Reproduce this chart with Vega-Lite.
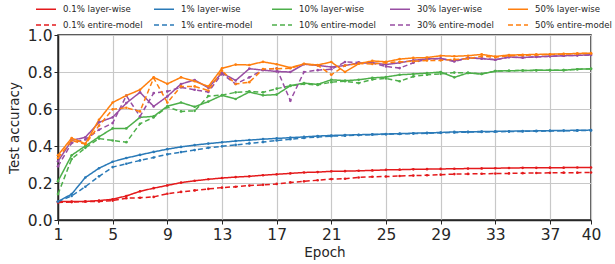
{
  "$schema": "https://vega.github.io/schema/vega-lite/v6.json",
  "width": 533,
  "height": 185,
  "autosize": {"type": "none"},
  "padding": {"left": 58, "top": 35, "right": 24, "bottom": 44},
  "background": "white",
  "config": {
    "font": "DejaVu Sans",
    "view": {"stroke": "#262626", "strokeWidth": 1.5},
    "axis": {
      "domainColor": "#262626", "domainWidth": 1.5,
      "tickColor": "#262626", "tickSize": 4, "tickWidth": 1,
      "labelFont": "DejaVu Sans", "labelFontSize": 15.5, "labelColor": "#262626",
      "titleFont": "DejaVu Sans", "titleFontSize": 13.5, "titleFontWeight": "normal", "titleColor": "#262626",
      "gridColor": "#c8c8c8", "gridWidth": 1.2
    },
    "legend": {
      "orient": "none", "legendX": -23, "legendY": -37,
      "columns": 5, "direction": "horizontal", "gridAlign": "all",
      "symbolType": "stroke", "symbolSize": 400, "symbolStrokeWidth": 1.5,
      "labelFont": "DejaVu Sans", "labelFontSize": 8.6, "labelColor": "#262626",
      "labelOffset": 6, "columnPadding": 8, "rowPadding": -13, "padding": 0
    }
  },
  "data": {"values": [
    {"epoch":1,"lw01":0.100,"em01":0.095,"lw1":0.100,"em1":0.100,"lw10":0.210,"em10":0.140,"lw30":0.317,"em30":0.290,"lw50":0.350,"em50":0.335},
    {"epoch":2,"lw01":0.100,"em01":0.097,"lw1":0.140,"em1":0.130,"lw10":0.350,"em10":0.330,"lw30":0.430,"em30":0.416,"lw50":0.443,"em50":0.430},
    {"epoch":3,"lw01":0.100,"em01":0.100,"lw1":0.230,"em1":0.180,"lw10":0.400,"em10":0.390,"lw30":0.447,"em30":0.435,"lw50":0.412,"em50":0.410},
    {"epoch":4,"lw01":0.105,"em01":0.100,"lw1":0.280,"em1":0.236,"lw10":0.450,"em10":0.440,"lw30":0.528,"em30":0.488,"lw50":0.542,"em50":0.510},
    {"epoch":5,"lw01":0.112,"em01":0.105,"lw1":0.315,"em1":0.286,"lw10":0.495,"em10":0.430,"lw30":0.555,"em30":0.524,"lw50":0.635,"em50":0.598},
    {"epoch":6,"lw01":0.130,"em01":0.118,"lw1":0.335,"em1":0.304,"lw10":0.495,"em10":0.420,"lw30":0.632,"em30":0.672,"lw50":0.673,"em50":0.607},
    {"epoch":7,"lw01":0.155,"em01":0.120,"lw1":0.352,"em1":0.322,"lw10":0.555,"em10":0.520,"lw30":0.690,"em30":0.560,"lw50":0.704,"em50":0.587},
    {"epoch":8,"lw01":0.172,"em01":0.125,"lw1":0.368,"em1":0.338,"lw10":0.560,"em10":0.555,"lw30":0.614,"em30":0.686,"lw50":0.771,"em50":0.768},
    {"epoch":9,"lw01":0.187,"em01":0.142,"lw1":0.383,"em1":0.355,"lw10":0.615,"em10":0.610,"lw30":0.668,"em30":0.695,"lw50":0.736,"em50":0.635},
    {"epoch":10,"lw01":0.202,"em01":0.152,"lw1":0.395,"em1":0.367,"lw10":0.635,"em10":0.587,"lw30":0.735,"em30":0.717,"lw50":0.771,"em50":0.722},
    {"epoch":11,"lw01":0.212,"em01":0.160,"lw1":0.405,"em1":0.378,"lw10":0.612,"em10":0.590,"lw30":0.757,"em30":0.704,"lw50":0.750,"em50":0.722},
    {"epoch":12,"lw01":0.220,"em01":0.168,"lw1":0.413,"em1":0.390,"lw10":0.640,"em10":0.670,"lw30":0.715,"em30":0.692,"lw50":0.722,"em50":0.700},
    {"epoch":13,"lw01":0.227,"em01":0.175,"lw1":0.420,"em1":0.398,"lw10":0.674,"em10":0.675,"lw30":0.795,"em30":0.790,"lw50":0.820,"em50":0.807},
    {"epoch":14,"lw01":0.232,"em01":0.180,"lw1":0.427,"em1":0.406,"lw10":0.654,"em10":0.690,"lw30":0.754,"em30":0.735,"lw50":0.840,"em50":0.735},
    {"epoch":15,"lw01":0.236,"em01":0.186,"lw1":0.432,"em1":0.414,"lw10":0.692,"em10":0.695,"lw30":0.818,"em30":0.771,"lw50":0.838,"em50":0.745},
    {"epoch":16,"lw01":0.242,"em01":0.190,"lw1":0.437,"em1":0.421,"lw10":0.674,"em10":0.690,"lw30":0.810,"em30":0.812,"lw50":0.855,"em50":0.816},
    {"epoch":17,"lw01":0.247,"em01":0.195,"lw1":0.441,"em1":0.430,"lw10":0.678,"em10":0.710,"lw30":0.803,"em30":0.820,"lw50":0.842,"em50":0.818},
    {"epoch":18,"lw01":0.252,"em01":0.203,"lw1":0.445,"em1":0.437,"lw10":0.726,"em10":0.725,"lw30":0.800,"em30":0.645,"lw50":0.823,"em50":0.820},
    {"epoch":19,"lw01":0.257,"em01":0.209,"lw1":0.449,"em1":0.443,"lw10":0.740,"em10":0.735,"lw30":0.842,"em30":0.800,"lw50":0.844,"em50":0.843},
    {"epoch":20,"lw01":0.259,"em01":0.215,"lw1":0.454,"em1":0.449,"lw10":0.733,"em10":0.730,"lw30":0.836,"em30":0.810,"lw50":0.838,"em50":0.836},
    {"epoch":21,"lw01":0.263,"em01":0.221,"lw1":0.457,"em1":0.453,"lw10":0.758,"em10":0.745,"lw30":0.827,"em30":0.815,"lw50":0.854,"em50":0.785},
    {"epoch":22,"lw01":0.264,"em01":0.223,"lw1":0.459,"em1":0.456,"lw10":0.753,"em10":0.750,"lw30":0.835,"em30":0.854,"lw50":0.800,"em50":0.835},
    {"epoch":23,"lw01":0.266,"em01":0.230,"lw1":0.461,"em1":0.459,"lw10":0.758,"em10":0.740,"lw30":0.849,"em30":0.852,"lw50":0.845,"em50":0.846},
    {"epoch":24,"lw01":0.268,"em01":0.234,"lw1":0.463,"em1":0.461,"lw10":0.768,"em10":0.760,"lw30":0.850,"em30":0.848,"lw50":0.860,"em50":0.843},
    {"epoch":25,"lw01":0.271,"em01":0.235,"lw1":0.465,"em1":0.463,"lw10":0.773,"em10":0.765,"lw30":0.840,"em30":0.830,"lw50":0.855,"em50":0.850},
    {"epoch":26,"lw01":0.272,"em01":0.238,"lw1":0.467,"em1":0.465,"lw10":0.785,"em10":0.750,"lw30":0.850,"em30":0.821,"lw50":0.870,"em50":0.855},
    {"epoch":27,"lw01":0.274,"em01":0.240,"lw1":0.469,"em1":0.467,"lw10":0.789,"em10":0.776,"lw30":0.863,"em30":0.850,"lw50":0.876,"em50":0.858},
    {"epoch":28,"lw01":0.275,"em01":0.242,"lw1":0.471,"em1":0.469,"lw10":0.794,"em10":0.785,"lw30":0.871,"em30":0.870,"lw50":0.878,"em50":0.862},
    {"epoch":29,"lw01":0.276,"em01":0.245,"lw1":0.473,"em1":0.471,"lw10":0.800,"em10":0.790,"lw30":0.873,"em30":0.872,"lw50":0.888,"em50":0.863},
    {"epoch":30,"lw01":0.277,"em01":0.248,"lw1":0.476,"em1":0.473,"lw10":0.771,"em10":0.797,"lw30":0.860,"em30":0.857,"lw50":0.885,"em50":0.868},
    {"epoch":31,"lw01":0.278,"em01":0.249,"lw1":0.477,"em1":0.475,"lw10":0.795,"em10":0.795,"lw30":0.876,"em30":0.876,"lw50":0.888,"em50":0.872},
    {"epoch":32,"lw01":0.279,"em01":0.250,"lw1":0.478,"em1":0.476,"lw10":0.789,"em10":0.790,"lw30":0.872,"em30":0.874,"lw50":0.895,"em50":0.885},
    {"epoch":33,"lw01":0.280,"em01":0.251,"lw1":0.479,"em1":0.477,"lw10":0.805,"em10":0.805,"lw30":0.866,"em30":0.866,"lw50":0.884,"em50":0.880},
    {"epoch":34,"lw01":0.281,"em01":0.252,"lw1":0.480,"em1":0.478,"lw10":0.807,"em10":0.807,"lw30":0.881,"em30":0.880,"lw50":0.892,"em50":0.888},
    {"epoch":35,"lw01":0.282,"em01":0.253,"lw1":0.481,"em1":0.479,"lw10":0.808,"em10":0.808,"lw30":0.878,"em30":0.878,"lw50":0.893,"em50":0.890},
    {"epoch":36,"lw01":0.282,"em01":0.254,"lw1":0.482,"em1":0.480,"lw10":0.809,"em10":0.809,"lw30":0.882,"em30":0.882,"lw50":0.895,"em50":0.893},
    {"epoch":37,"lw01":0.283,"em01":0.255,"lw1":0.483,"em1":0.481,"lw10":0.810,"em10":0.810,"lw30":0.885,"em30":0.885,"lw50":0.896,"em50":0.895},
    {"epoch":38,"lw01":0.283,"em01":0.256,"lw1":0.484,"em1":0.482,"lw10":0.810,"em10":0.810,"lw30":0.888,"em30":0.888,"lw50":0.898,"em50":0.897},
    {"epoch":39,"lw01":0.284,"em01":0.256,"lw1":0.485,"em1":0.483,"lw10":0.815,"em10":0.815,"lw30":0.890,"em30":0.890,"lw50":0.900,"em50":0.899},
    {"epoch":40,"lw01":0.284,"em01":0.257,"lw1":0.486,"em1":0.484,"lw10":0.817,"em10":0.817,"lw30":0.893,"em30":0.892,"lw50":0.902,"em50":0.900}
  ]},
  "transform": [
    {"fold": ["lw01","em01","lw1","em1","lw10","em10","lw30","em30","lw50","em50"], "as": ["key","acc"]},
    {"lookup": "key", "from": {"data": {"values": [
      {"key":"lw01","series":"0.1% layer-wise"},
      {"key":"lw1","series":"1% layer-wise"},
      {"key":"lw10","series":"10% layer-wise"},
      {"key":"lw30","series":"30% layer-wise"},
      {"key":"lw50","series":"50% layer-wise"},
      {"key":"em01","series":"0.1% entire-model"},
      {"key":"em1","series":"1% entire-model"},
      {"key":"em10","series":"10% entire-model"},
      {"key":"em30","series":"30% entire-model"},
      {"key":"em50","series":"50% entire-model"}
    ]}, "key": "key", "fields": ["series"]}}
  ],
  "mark": {"type": "line", "strokeWidth": 1.5, "point": {"filled": true, "size": 7}},
  "encoding": {
    "x": {
      "field": "epoch", "type": "quantitative",
      "scale": {"domain": [1, 40], "nice": false, "zero": false},
      "axis": {"values": [1,5,9,13,17,21,25,29,33,37,40], "title": "Epoch", "labelPadding": 3, "titlePadding": 3, "labelFlush": false}
    },
    "y": {
      "field": "acc", "type": "quantitative",
      "scale": {"domain": [0, 1], "nice": false},
      "axis": {"values": [0,0.2,0.4,0.6,0.8,1.0], "format": ".1f", "title": "Test accuracy", "labelPadding": 2, "titlePadding": 6}
    },
    "color": {
      "field": "series", "type": "nominal", "title": null,
      "scale": {
        "domain": ["0.1% layer-wise","1% layer-wise","10% layer-wise","30% layer-wise","50% layer-wise","0.1% entire-model","1% entire-model","10% entire-model","30% entire-model","50% entire-model"],
        "range": ["#e41a1c","#2a7ab8","#4daf4a","#984ea3","#ff7f0e","#e41a1c","#2a7ab8","#4daf4a","#984ea3","#ff7f0e"]
      }
    },
    "strokeDash": {
      "field": "series", "type": "nominal", "title": null,
      "scale": {
        "domain": ["0.1% layer-wise","1% layer-wise","10% layer-wise","30% layer-wise","50% layer-wise","0.1% entire-model","1% entire-model","10% entire-model","30% entire-model","50% entire-model"],
        "range": [[1,0],[1,0],[1,0],[1,0],[1,0],[5,3],[5,3],[5,3],[5,3],[5,3]]
      }
    }
  }
}
